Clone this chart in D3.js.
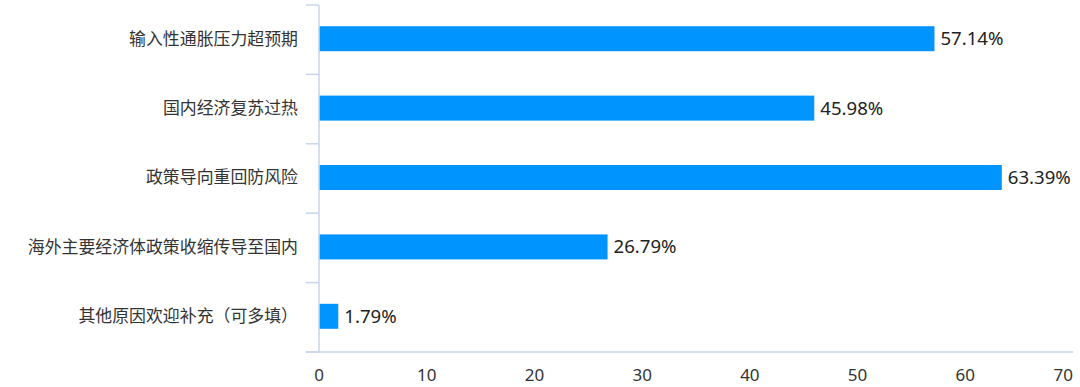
<!DOCTYPE html>
<html><head><meta charset="utf-8">
<script src="https://cdn.jsdelivr.net/npm/d3@7"></script>
<style>
html,body{margin:0;padding:0;background:#fff;}
svg{display:block;font-family:"Noto Sans CJK SC","Noto Sans",sans-serif;}
</style></head>
<body><svg id="chart" width="1080" height="387"></svg>
<script>
const categories = ["输入性通胀压力超预期","国内经济复苏过热","政策导向重回防风险","海外主要经济体政策收缩传导至国内","其他原因欢迎补充（可多填）"];
const values = [57.14, 45.98, 63.39, 26.79, 1.79];
const xTicks = [0,10,20,30,40,50,60,70];

const svg = d3.select("#chart");
const axisColor = "#c8d5e8";
const x = d3.scaleLinear().domain([0,70]).range([319,1073]);
const y = d3.scaleBand().domain(categories).range([5,352]).padding(0);
const barH = y.bandwidth()*0.36;

// bars
svg.selectAll("rect.bar").data(values).enter().append("rect")
  .attr("class","bar")
  .attr("x", x(0))
  .attr("y", (d,i)=> y(categories[i]) + y.bandwidth()/2 - barH/2 - 1)
  .attr("width", d=> x(d)-x(0))
  .attr("height", barH)
  .attr("fill","#0094ff");

// value labels
svg.selectAll("text.val").data(values).enter().append("text")
  .attr("class","val")
  .attr("x", d=> x(d)+6)
  .attr("y", (d,i)=> y(categories[i]) + y.bandwidth()/2 - 1)
  .attr("dy","0.35em")
  .attr("font-size",18.6)
  .attr("font-family","'Noto Sans',sans-serif")
  .attr("fill","#222")
  .text(d=> d.toFixed(2)+"%");

// y axis
const yAxis = svg.append("g");
yAxis.append("line").attr("x1",x(0)).attr("x2",x(0)).attr("y1",y.range()[0]).attr("y2",y.range()[1])
  .attr("stroke",axisColor).attr("stroke-width",1.5);
const bounds = categories.map(c=>y(c)).concat([y.range()[1]]);
yAxis.selectAll("line.tk").data(bounds).enter().append("line")
  .attr("class","tk")
  .attr("x1",x(0)-13).attr("x2",x(0)).attr("y1",d=>d).attr("y2",d=>d)
  .attr("stroke",axisColor).attr("stroke-width",1.5);
yAxis.selectAll("text").data(categories).enter().append("text")
  .attr("x", x(0)-21)
  .attr("y", d=> y(d)+y.bandwidth()/2 - 1)
  .attr("dy","0.35em")
  .attr("text-anchor","end")
  .attr("font-size",16.9)
  .attr("fill","#333")
  .text(d=>d);

// x axis
const xAxis = svg.append("g");
xAxis.append("line").attr("x1",x(0)-13).attr("x2",x(70)).attr("y1",352).attr("y2",352)
  .attr("stroke",axisColor).attr("stroke-width",1.5);
xAxis.selectAll("text").data(xTicks).enter().append("text")
  .attr("x", (d,i)=> i===xTicks.length-1 ? x(d) : x(d))
  .attr("y", 375)
  .attr("dy","0.35em")
  .attr("text-anchor",(d,i)=> i===xTicks.length-1 ? "end" : "middle")
  .attr("font-size",17)
  .attr("font-family","'Noto Sans',sans-serif")
  .attr("fill","#333")
  .text(d=>d);
</script></body></html>
